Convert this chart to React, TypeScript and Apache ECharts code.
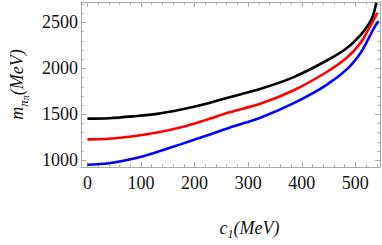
import React, { useEffect, useRef } from "react";
import * as echarts from "echarts";

// ---- data ----
const blackX = [0, 40, 85, 130, 175, 220, 265, 325, 385, 445, 485, 510, 525, 533, 539];
const blackY = [1453, 1458, 1478, 1505, 1552, 1612, 1685, 1781, 1905, 2080, 2225, 2365, 2480, 2575, 2715];

const redX = [0, 40, 85, 130, 175, 220, 265, 325, 385, 445, 485, 510, 525, 535, 541];
const redY = [1228, 1235, 1262, 1303, 1360, 1437, 1522, 1620, 1762, 1955, 2120, 2280, 2430, 2535, 2605];

const blueX = [0, 40, 85, 130, 175, 220, 265, 325, 385, 445, 485, 510, 525, 535, 543];
const blueY = [952, 968, 1016, 1090, 1176, 1265, 1355, 1469, 1621, 1815, 1995, 2170, 2330, 2440, 2512];

const xMajorTicks = [0, 100, 200, 300, 400, 500];
const xMinorTicks = [20, 40, 60, 80, 120, 140, 160, 180, 220, 240, 260, 280, 320, 340, 360, 380, 420, 440, 460, 480, 520, 540];
const yMajorTicks = [1000, 1500, 2000, 2500];
const yMinorTicks = [1100, 1200, 1300, 1400, 1600, 1700, 1800, 1900, 2100, 2200, 2300, 2400, 2600, 2700];

const X_MIN = -12;
const X_MAX = 546;
const Y_MIN = 927;
const Y_MAX = 2722;

const FRAME = "#a9a9a9";
const FONT = "Liberation Serif";

function zip(xs: number[], ys: number[]) {
  return xs.map((x, i) => [x, ys[i]]);
}

export default function App() {
  const ref = useRef<HTMLDivElement>(null);

  useEffect(() => {
    if (!ref.current) return;
    const chart = echarts.init(ref.current, null, { renderer: "svg" });

    const tickLine = { color: FRAME, width: 1 };
    const labelStyle = (margin: number, ticks: number[]) => ({
      show: true,
      customValues: ticks,
      margin,
      color: "#111",
      fontFamily: FONT,
      fontSize: 18,
      formatter: (v: number) => "{t|" + String(v) + "}",
      rich: {
        t: { fontFamily: FONT, fontSize: 18, color: "#111" },
      },
    });
    const xAxisBase = (position: string, ticks: number[], len: number, showLine: boolean, labels: boolean) => ({
      type: "value",
      position,
      min: X_MIN,
      max: X_MAX,
      axisLine: { show: showLine, onZero: false, lineStyle: { color: FRAME, width: 1 } },
      axisTick: { show: true, inside: true, length: len, customValues: ticks, lineStyle: tickLine },
      axisLabel: labels ? labelStyle(7, ticks) : { show: false },
      splitLine: { show: false },
    });
    const yAxisBase = (position: string, ticks: number[], len: number, showLine: boolean, labels: boolean) => ({
      type: "value",
      position,
      min: Y_MIN,
      max: Y_MAX,
      axisLine: { show: showLine, onZero: false, lineStyle: { color: FRAME, width: 1 } },
      axisTick: { show: true, inside: true, length: len, customValues: ticks, lineStyle: tickLine },
      axisLabel: labels ? labelStyle(3, ticks) : { show: false },
      splitLine: { show: false },
    });

    const xMain: any = xAxisBase("bottom", xMajorTicks, 5, true, true);
    xMain.name = "{sp|}{c|c}{s|1}{n|(MeV)}";
    xMain.nameLocation = "middle";
    xMain.nameGap = 49;
    xMain.nameTextStyle = {
      rich: {
        sp: { width: 38, fontSize: 18 },
        c: { fontFamily: FONT, fontStyle: "italic", fontSize: 18, lineHeight: 24, color: "#111" },
        s: { fontFamily: FONT, fontStyle: "italic", fontSize: 12, lineHeight: 13, verticalAlign: "bottom", color: "#111" },
        n: { fontFamily: FONT, fontStyle: "italic", fontSize: 18, lineHeight: 24, color: "#111" },
      },
    };

    const yMain: any = yAxisBase("left", yMajorTicks, 5, true, true);
    yMain.name = "{m|m}{s|π}{ss|π}{n|(MeV)}";
    yMain.nameLocation = "middle";
    yMain.nameRotate = 90;
    yMain.nameGap = 51;
    yMain.nameTextStyle = {
      rich: {
        m: { fontFamily: FONT, fontStyle: "italic", fontSize: 18, lineHeight: 26, color: "#111" },
        s: { fontFamily: FONT, fontStyle: "italic", fontSize: 13, lineHeight: 14, verticalAlign: "bottom", color: "#111" },
        ss: { fontFamily: FONT, fontStyle: "italic", fontSize: 10, lineHeight: 7, verticalAlign: "bottom", color: "#111" },
        n: { fontFamily: FONT, fontStyle: "italic", fontSize: 18, lineHeight: 26, color: "#111" },
      },
    };

    const lineSeries = (name: string, xs: number[], ys: number[], color: string) => ({
      name,
      type: "line",
      xAxisIndex: 0,
      yAxisIndex: 0,
      data: zip(xs, ys),
      showSymbol: false,
      smooth: 0.35,
      lineStyle: { color, width: 2.6 },
      itemStyle: { color },
      clip: true,
    });

    chart.setOption({
      animation: false,
      backgroundColor: "#ffffff",
      textStyle: { fontFamily: FONT },
      grid: { left: 73, right: 2, top: 2, bottom: 55.7, containLabel: false },
      xAxis: [
        xMain,
        xAxisBase("bottom", xMinorTicks, 2.6, false, false),
        xAxisBase("top", xMajorTicks, 5, true, false),
        xAxisBase("top", xMinorTicks, 2.6, false, false),
      ],
      yAxis: [
        yMain,
        yAxisBase("left", yMinorTicks, 2.6, false, false),
        yAxisBase("right", yMajorTicks, 5, true, false),
        yAxisBase("right", yMinorTicks, 2.6, false, false),
      ],
      series: [
        lineSeries("black", blackX, blackY, "#000000"),
        lineSeries("red", redX, redY, "#ff0000"),
        lineSeries("blue", blueX, blueY, "#0000ff"),
      ],
    });

    return () => chart.dispose();
  }, []);

  return (
    <div
      ref={ref}
      style={{ position: "absolute", left: 0, top: 0, width: 382, height: 245, background: "#fff" }}
    />
  );
}
